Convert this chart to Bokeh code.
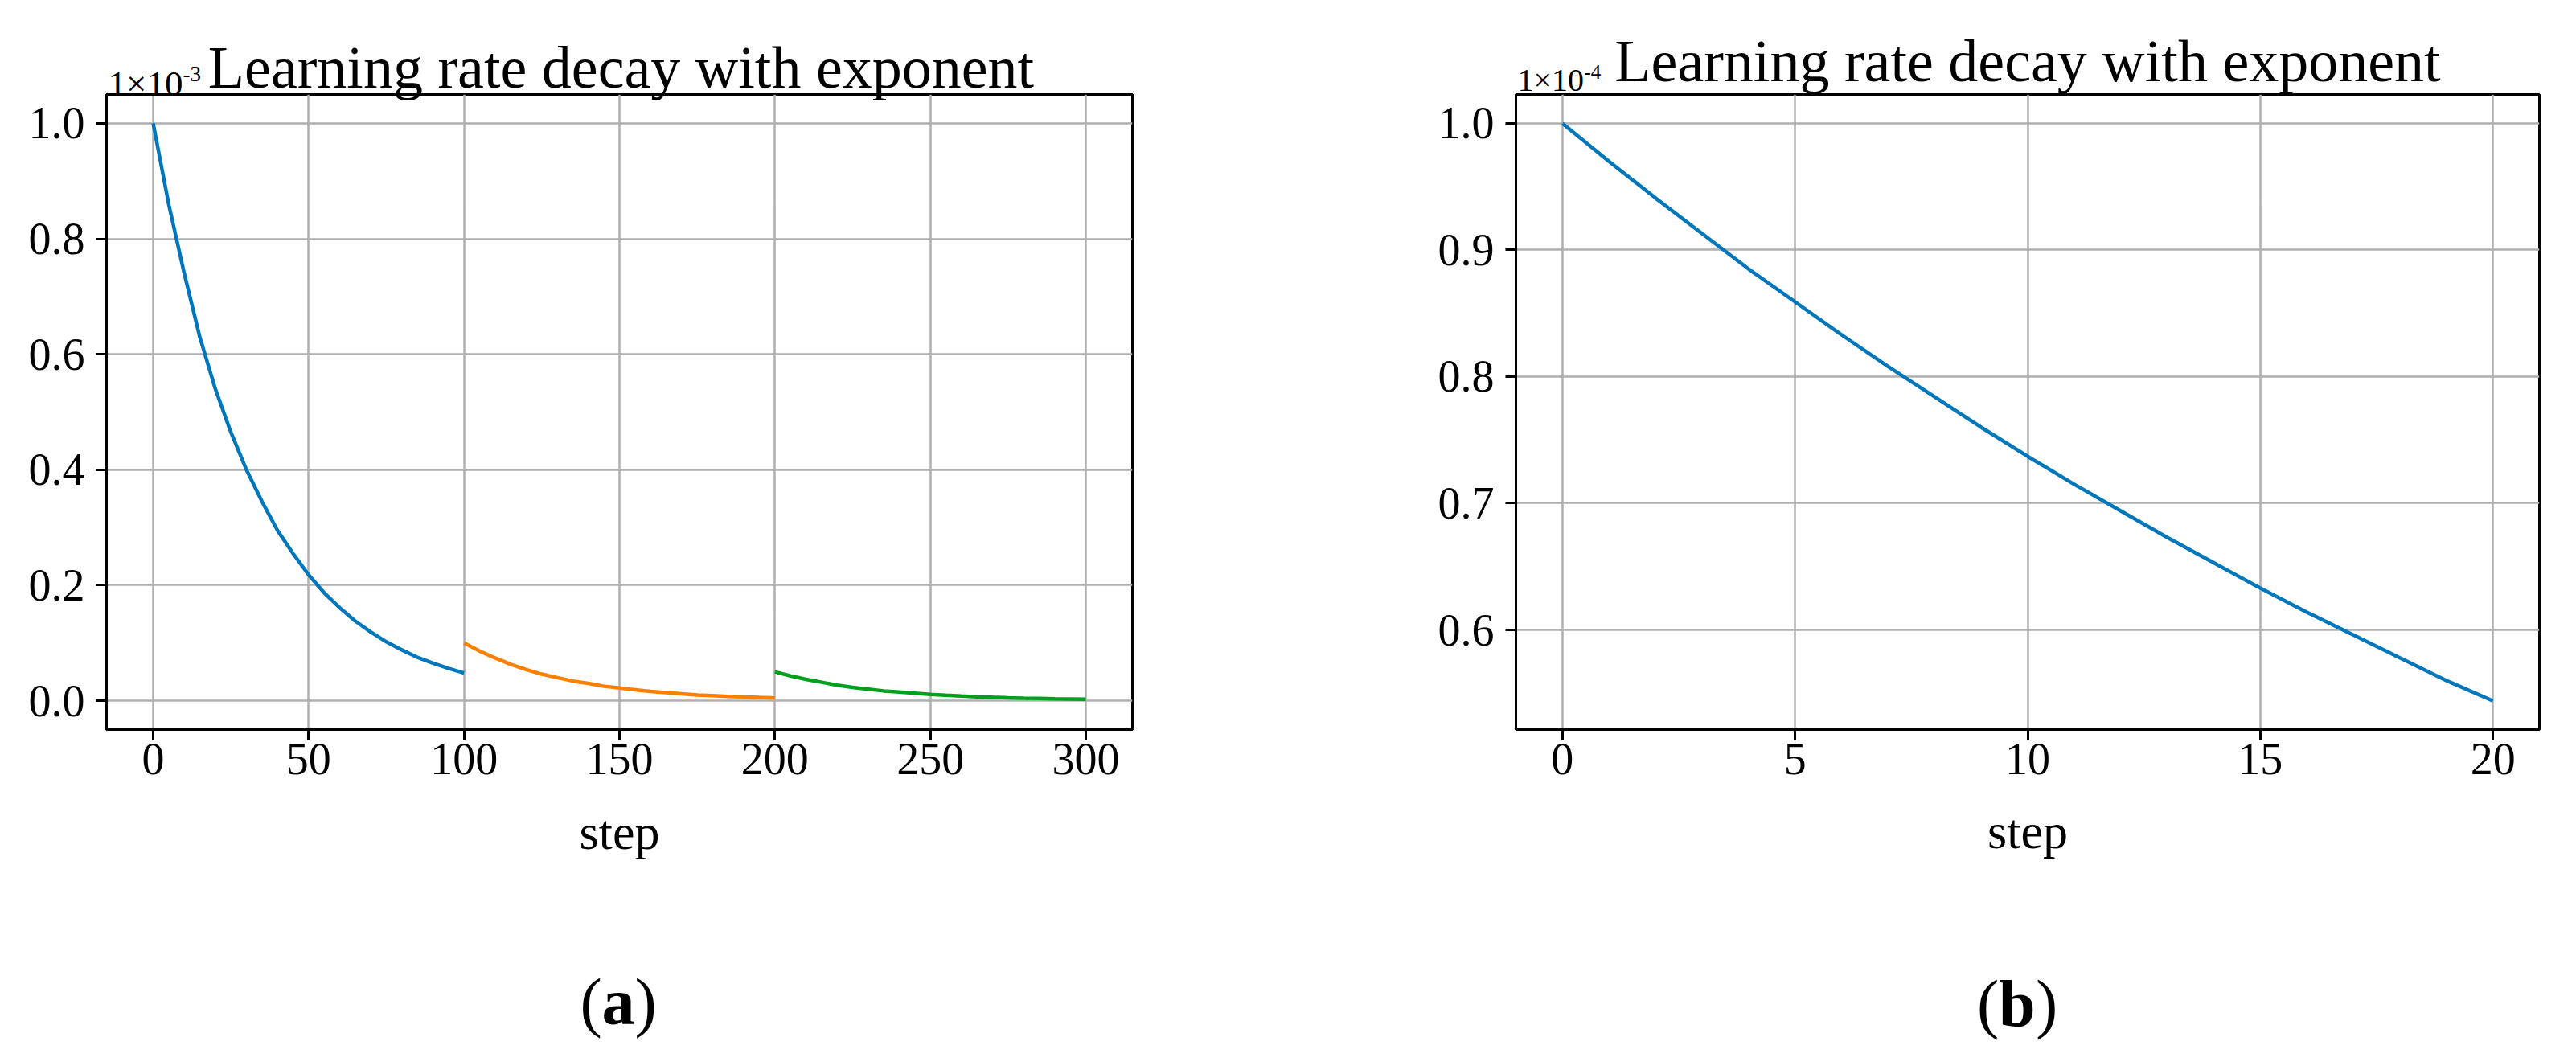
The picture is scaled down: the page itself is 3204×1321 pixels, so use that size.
from bokeh.plotting import figure
from bokeh.layouts import row
from bokeh.models import Range1d, FixedTicker, NumeralTickFormatter, Label
from bokeh.embed import file_html
from bokeh.resources import INLINE

# ---------------- data (learning rate, in units of the axis multiplier) ----------------
# panel (a): values x 1e-3
steps_a1 = [0, 5, 10, 15, 20, 25, 30, 35, 40, 45, 50, 55, 60, 65, 70, 75, 80, 85, 90, 95, 100]
lr_a1 = [1.0, 0.86, 0.74, 0.63, 0.54, 0.465, 0.40, 0.345, 0.295, 0.255, 0.218, 0.187,
         0.161, 0.138, 0.119, 0.102, 0.088, 0.075, 0.065, 0.056, 0.048]
steps_a2 = [100, 105, 110, 115, 120, 125, 130, 135, 140, 145, 150, 155, 160, 165, 170,
            175, 180, 185, 190, 195, 200]
lr_a2 = [0.100, 0.086, 0.074, 0.063, 0.054, 0.046, 0.040, 0.034, 0.030, 0.025, 0.022,
         0.019, 0.016, 0.014, 0.012, 0.010, 0.0088, 0.0075, 0.0065, 0.0056, 0.0048]
steps_a3 = [200, 205, 210, 215, 220, 225, 230, 235, 240, 245, 250, 255, 260, 265, 270,
            275, 280, 285, 290, 295, 300]
lr_a3 = [0.050, 0.043, 0.037, 0.032, 0.027, 0.023, 0.020, 0.017, 0.015, 0.013, 0.011,
         0.0094, 0.0081, 0.0069, 0.0059, 0.0051, 0.0044, 0.0038, 0.0032, 0.0028, 0.0024]

# panel (b): values x 1e-4
steps_b = [0, 1, 2, 3, 4, 5, 6, 7, 8, 9, 10, 11, 12, 13, 14, 15, 16, 17, 18, 19, 20]
lr_b = [1.0, 0.970, 0.941, 0.913, 0.885, 0.859, 0.833, 0.808, 0.784, 0.760, 0.737,
        0.715, 0.694, 0.673, 0.653, 0.633, 0.614, 0.596, 0.578, 0.560, 0.544]

xticks_a = [0, 50, 100, 150, 200, 250, 300]
yticks_a = [0.0, 0.2, 0.4, 0.6, 0.8, 1.0]
xticks_b = [0, 5, 10, 15, 20]
yticks_b = [0.6, 0.7, 0.8, 0.9, 1.0]

title_text = "Learning rate decay with exponent"
xlabel_text = "step"

BLUE = "#0077bb"
ORANGE = "#ff8000"
GREEN = "#00a01e"
FONT = "Liberation Serif"


def make_fig(width, height, xr, yr, xt, yt, mbl, mbr, mbt, mbb):
    p = figure(width=width, height=height, x_range=Range1d(*xr), y_range=Range1d(*yr),
               output_backend="svg", toolbar_location=None,
               min_border_left=mbl, min_border_right=mbr,
               min_border_top=mbt, min_border_bottom=mbb)
    p.background_fill_color = "white"
    p.border_fill_color = "white"
    p.outline_line_color = "black"
    p.outline_line_width = 3
    xtk = FixedTicker(ticks=xt)
    ytk = FixedTicker(ticks=yt)
    p.xaxis.ticker = xtk
    p.yaxis.ticker = ytk
    p.xgrid.ticker = xtk
    p.ygrid.ticker = ytk
    p.yaxis.formatter = NumeralTickFormatter(format="0.0")
    for ax in (p.xaxis[0], p.yaxis[0]):
        ax.axis_line_color = "black"
        ax.axis_line_width = 3
        ax.major_tick_line_color = "black"
        ax.major_tick_line_width = 3
        ax.major_tick_out = 13
        ax.major_tick_in = 0
        ax.minor_tick_line_color = None
        ax.major_label_text_font = FONT
        ax.major_label_text_font_size = "56px"
        ax.major_label_text_color = "black"
    p.xaxis.major_label_standoff = 4
    p.yaxis.major_label_standoff = 14
    for g in (p.xgrid[0], p.ygrid[0]):
        g.grid_line_color = "#b0b0b0"
        g.grid_line_width = 2.5
    return p


def lab(p, side, x, y, text, dx, dy, size, align="left", style="normal"):
    # labels live in side panels so they are not clipped to the frame
    p.add_layout(Label(x=x, y=y, text=text, text_align=align,
                       text_baseline="alphabetic", x_offset=dx, y_offset=dy,
                       text_font=FONT, text_font_size=size, text_font_style=style,
                       text_color="black"), side)


# ---------------- panel (a) ----------------
pa = make_fig(1592, 1305, (-15, 315), (-0.05, 1.05), xticks_a, yticks_a,
              mbl=132, mbr=184, mbt=109, mbb=396)
pa.line(steps_a1, lr_a1, line_color=BLUE, line_width=4.5)
pa.line(steps_a2, lr_a2, line_color=ORANGE, line_width=4.5)
pa.line(steps_a3, lr_a3, line_color=GREEN, line_width=4.5)
lab(pa, "above", 150, 1.05, title_text, 2, 34, "74px", align="center")
lab(pa, "right", -15, 1.05, "1\u00d710", 2, 14, "45px")
lab(pa, "right", -15, 1.05, "-3", 95, 26, "27px")
lab(pa, "below", 150, -0.05, xlabel_text, 0, -127, "62px", align="center")
lab(pa, "left", 150, -0.05, "(", -49, -339, "82px")
lab(pa, "below", 150, -0.05, "a", -22, -339, "82px", style="bold")
lab(pa, "right", 150, -0.05, ")", 19, -339, "82px")

# ---------------- panel (b) ----------------
pb = make_fig(1596, 1305, (-1, 21), (0.5213, 1.0228), xticks_b, yticks_b,
              mbl=293, mbr=30, mbt=117, mbb=398)
pb.line(steps_b, lr_b, line_color=BLUE, line_width=4.5)
lab(pb, "above", 10, 1.0228, title_text, 0, 42, "74px", align="center")
lab(pb, "left", -1, 1.0228, "1\u00d710", 2, 18, "40px")
lab(pb, "left", -1, 1.0228, "-4", 85, 28, "25px")
lab(pb, "below", 10, 0.5213, xlabel_text, 0, -126, "62px", align="center")
lab(pb, "left", 10, 0.5213, "(", -63, -341, "82px")
lab(pb, "below", 10, 0.5213, "b", -36, -341, "82px", style="bold")
lab(pb, "right", 10, 0.5213, ")", 10, -341, "82px")

layout = row(pa, pb)
open("out.html", "w").write(file_html(layout, INLINE))
